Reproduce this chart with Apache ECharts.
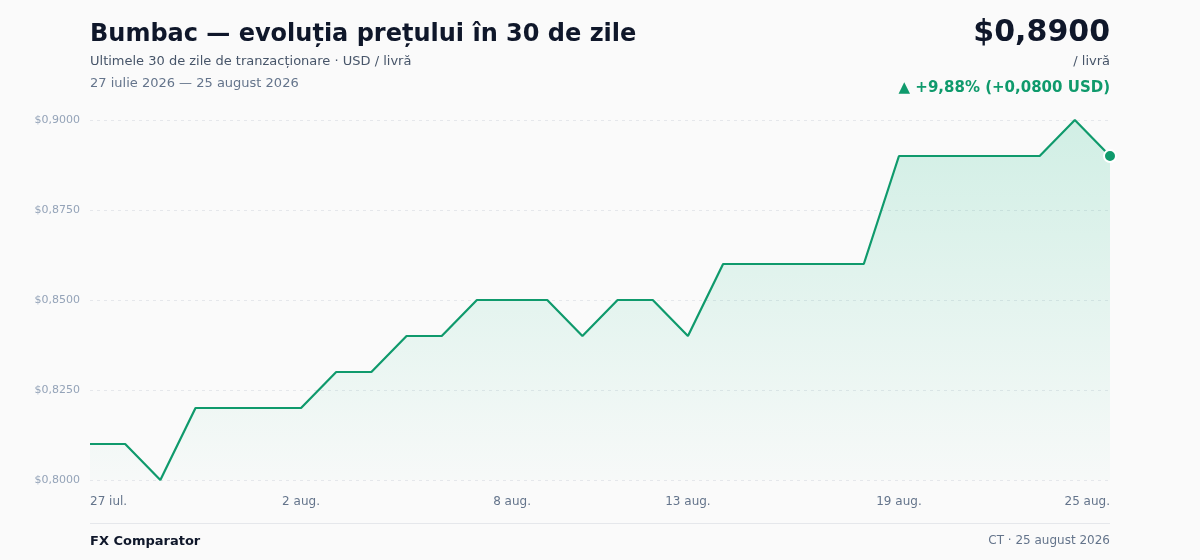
<!DOCTYPE html>
<html>
<head>
<meta charset="utf-8">
<script src="https://cdn.jsdelivr.net/npm/echarts@6/dist/echarts.min.js"></script>
<style>
  html, body { margin: 0; padding: 0; background: #fafafa; }
  #chart { width: 1200px; height: 560px; }
</style>
</head>
<body>
<div id="chart"></div>
<script>
const FONT = '"DejaVu Sans", sans-serif';

const days = [
  '27 iul.', '28 iul.', '29 iul.', '30 iul.', '31 iul.',
  '1 aug.', '2 aug.', '3 aug.', '4 aug.', '5 aug.', '6 aug.', '7 aug.',
  '8 aug.', '9 aug.', '10 aug.', '11 aug.', '12 aug.', '13 aug.', '14 aug.',
  '15 aug.', '16 aug.', '17 aug.', '18 aug.', '19 aug.', '20 aug.', '21 aug.',
  '22 aug.', '23 aug.', '24 aug.', '25 aug.'
];
const prices = [
  0.81, 0.81, 0.80, 0.82, 0.82, 0.82, 0.82, 0.83, 0.83, 0.84,
  0.84, 0.85, 0.85, 0.85, 0.84, 0.85, 0.85, 0.84, 0.86, 0.86,
  0.86, 0.86, 0.86, 0.89, 0.89, 0.89, 0.89, 0.89, 0.90, 0.89
];
const shownLabels = [0, 6, 12, 17, 23, 29];

const fmt = v => '$' + v.toFixed(4).replace('.', ',');

const chart = echarts.init(document.getElementById('chart'));

function txt(pos, text, size, weight, color, align) {
  return Object.assign({
    type: 'text',
    style: {
      text: text,
      fill: color,
      fontSize: size,
      fontWeight: weight,
      fontFamily: FONT,
      align: align || 'left'
    }
  }, pos);
}

const options = {
  backgroundColor: '#fafafa',
  animation: false,
  grid: {
    left: 90,
    right: 90,
    top: 120,
    bottom: 80
  },
  xAxis: {
    type: 'category',
    boundaryGap: false,
    data: days,
    axisLine: { show: false },
    axisTick: { show: false },
    axisLabel: {
      interval: (i) => shownLabels.indexOf(i) >= 0,
      alignMinLabel: 'left',
      alignMaxLabel: 'right',
      margin: 16,
      color: '#64748b',
      fontSize: 12,
      fontFamily: FONT
    },
    splitLine: { show: false }
  },
  yAxis: {
    type: 'value',
    min: 0.8,
    max: 0.9,
    interval: 0.025,
    axisLine: { show: false },
    axisTick: { show: false },
    axisLabel: {
      formatter: fmt,
      margin: 10,
      color: '#94a3b8',
      fontSize: 11,
      fontFamily: FONT
    },
    splitLine: {
      lineStyle: { color: '#e5e7eb', type: [3, 4], width: 1 }
    }
  },
  series: [{
    type: 'line',
    data: prices,
    smooth: false,
    symbol: 'circle',
    symbolSize: (v, p) => p.dataIndex === prices.length - 1 ? 12 : 0,
    showSymbol: true,
    itemStyle: { color: '#0f9a6c', borderColor: '#ffffff', borderWidth: 2 },
    lineStyle: { color: '#0f9a6c', width: 2.2 },
    areaStyle: {
      color: new echarts.graphic.LinearGradient(0, 0, 0, 1, [
        { offset: 0, color: 'rgba(16,185,129,0.25)' },
        { offset: 1, color: 'rgba(16,185,129,0.02)' }
      ])
    }
  }],
  graphic: [
    txt({ left: 90, top: 23 }, 'Bumbac — evoluția prețului în 30 de zile', 24, 'bold', '#0f172a'),
    txt({ left: 90, top: 55 }, 'Ultimele 30 de zile de tranzacționare · USD / livră', 13, 'normal', '#475569'),
    txt({ left: 90, top: 77 }, '27 iulie 2026 — 25 august 2026', 13, 'normal', '#64748b'),
    txt({ right: 90, top: 18 }, '$0,8900', 30, 'bold', '#0f172a', 'right'),
    txt({ right: 90, top: 55 }, '/ livră', 13, 'normal', '#475569', 'right'),
    txt({ right: 90, top: 81 }, '▲ +9,88% (+0,0800 USD)', 15, 'bold', '#0f9a6c', 'right'),
    {
      type: 'line',
      shape: { x1: 90, y1: 523.5, x2: 1110, y2: 523.5 },
      style: { stroke: '#e5e7eb', lineWidth: 1 }
    },
    txt({ left: 90, top: 535 }, 'FX Comparator', 13, 'bold', '#0f172a'),
    txt({ right: 90, top: 535 }, 'CT · 25 august 2026', 12, 'normal', '#64748b', 'right')
  ]
};

chart.setOption(options);
</script>
</body>
</html>
